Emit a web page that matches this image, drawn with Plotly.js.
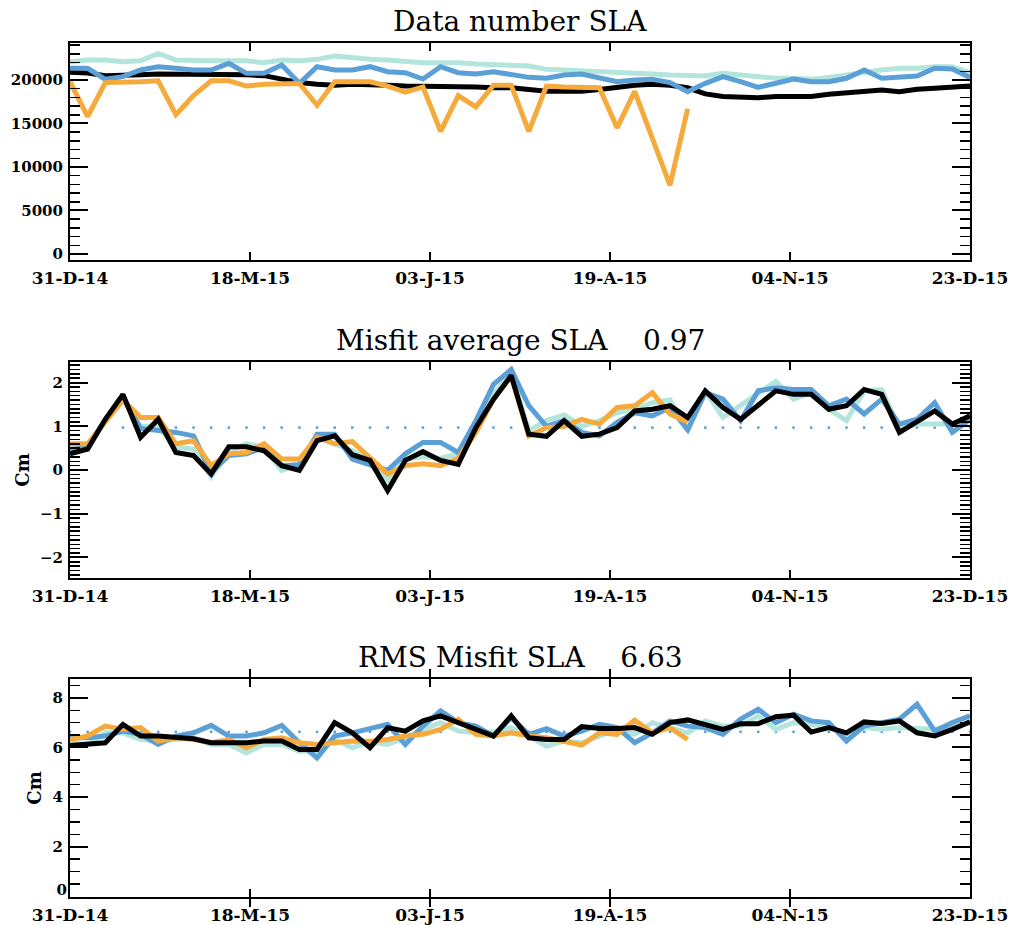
<!DOCTYPE html>
<html>
<head>
<meta charset="utf-8">
<script src="https://cdn.plot.ly/plotly-3.0.1.min.js"></script>
<style>
  html, body { margin: 0; padding: 0; background: #ffffff; }
  #chart { width: 1016px; height: 925px; }
</style>
</head>
<body>
<div id="chart"></div>
<script>
// ---------------- DATA ----------------
const tickLabels = ["31-D-14", "18-M-15", "03-J-15", "19-A-15", "04-N-15", "23-D-15"];
const nWeeks = 52;
const weeks = Array.from({length: nWeeks}, (_, i) => i);

const panelTitles = ["Data number SLA", "Misfit average SLA", "RMS Misfit SLA"];
const misfitAverage = 0.97;
const rmsAverage = 6.63;
const rmsTickValues = [2, 4, 6, 8];

// Panel 1: data number
const dataNumTeal = [22100,22300,22300,22100,22200,23060,22300,22200,22200,22200,
  22200,21990,22300,22200,22370,22750,22490,22370,22300,22100,
  21990,21990,21990,21840,21720,21600,21600,21220,21150,21070,
  20950,20950,20760,20690,20570,20460,20460,20760,20570,20300,
  20190,20190,20080,20300,20570,20950,21150,21340,21340,21530,
  21530,20840];
const dataNumBlue = [21340,21340,20080,20380,21150,21530,21340,21150,21150,21910,
  20760,20760,21720,19620,21530,21150,21150,21530,20950,20840,
  20110,21530,20840,20690,20950,20690,20300,20190,20570,20690,
  20190,19810,20000,20080,19700,18660,19620,20380,19810,19160,
  19620,20110,19810,19810,20190,21150,20190,20300,20460,21340,
  21260,20300];
const dataNumOrange = [19800,15800,19700,19700,19800,19900,16000,18200,19900,19900,
  19300,19500,19600,19600,17100,19800,19800,19800,19300,18600,
  19200,14100,18200,16900,19400,19400,14100,19300,19200,19100,
  19100,14500,18700,13300,7900,16700];
const dataNumBlack = [20900,20800,20500,20500,20600,20700,20700,20600,20600,20700,
  20600,20500,20100,19700,19500,19400,19500,19500,19400,19300,
  19300,19300,19300,19200,19100,19100,18900,18700,18700,18700,
  18900,19200,19400,19500,19400,19100,18400,18100,18000,17970,
  18090,18090,18090,18350,18470,18660,18850,18660,18930,19040,
  19160,19310];

// Panel 2: misfit average (cm)
const misfitTeal = [0.50,0.55,1.10,1.60,1.00,1.00,0.52,0.48,-0.16,0.44,
  0.60,0.52,-0.01,0.14,0.75,0.60,0.44,0.22,-0.24,0.25,
  0.30,0.27,0.37,0.94,1.73,2.22,0.90,1.13,1.26,1.00,
  1.13,1.31,1.39,1.54,1.60,0.90,1.81,1.20,1.47,1.73,
  2.03,1.62,1.77,1.39,1.13,1.81,1.84,0.94,1.05,1.05,
  1.05,1.16];
const misfitBlue = [0.45,0.55,1.15,1.65,0.95,0.90,0.86,0.78,-0.05,0.33,
  0.37,0.52,0.10,0.12,0.82,0.82,0.25,0.12,-0.01,0.37,
  0.63,0.63,0.40,1.13,1.96,2.30,1.47,1.00,1.13,0.86,
  0.78,1.09,1.31,1.24,1.43,0.92,1.77,1.62,1.13,1.81,
  1.88,1.84,1.84,1.47,1.62,1.28,1.62,1.05,1.16,1.54,
  0.86,1.16];
const misfitOrange = [0.60,0.60,1.10,1.60,1.20,1.20,0.60,0.67,0.10,0.37,
  0.40,0.60,0.25,0.25,0.75,0.60,0.65,0.28,-0.09,0.10,
  0.14,0.10,0.27,0.86,1.62,2.14,0.78,0.97,1.00,1.16,
  1.05,1.43,1.47,1.77,1.28,1.09];
const misfitBlack = [0.37,0.48,1.16,1.73,0.75,1.16,0.40,0.33,-0.09,0.53,
  0.53,0.44,0.10,-0.01,0.67,0.78,0.35,0.22,-0.47,0.22,
  0.42,0.22,0.13,0.97,1.62,2.16,0.82,0.77,1.13,0.77,
  0.82,0.97,1.35,1.39,1.47,1.20,1.81,1.43,1.16,1.47,
  1.81,1.73,1.73,1.39,1.47,1.84,1.73,0.86,1.09,1.35,
  1.05,1.24];

// Panel 3: RMS misfit (cm)
const rmsTeal = [6.19,6.12,6.59,6.59,6.32,6.26,6.32,6.39,6.12,6.12,
  5.78,6.12,6.12,5.85,5.85,6.32,5.99,6.22,6.12,6.39,
  6.73,7.00,6.66,6.59,6.62,6.80,6.46,6.05,6.26,6.19,
  6.46,6.73,6.53,7.00,6.80,6.59,7.07,6.86,6.86,7.27,
  6.73,7.00,6.93,6.80,6.53,6.80,6.73,6.80,6.76,6.73,
  6.80,7.00];
const rmsBlue = [6.39,6.39,6.46,6.66,6.53,6.12,6.46,6.59,6.89,6.46,
  6.46,6.59,6.89,6.19,5.58,6.46,6.59,6.75,6.93,6.12,
  6.86,7.47,7.00,6.86,6.46,7.20,6.53,6.76,6.46,6.66,
  6.93,6.80,6.19,6.59,7.07,6.86,6.80,6.53,7.14,7.54,
  7.00,7.34,7.07,7.00,6.26,6.86,7.00,7.14,7.74,6.66,
  7.00,7.27];
const rmsOrange = [6.32,6.46,6.86,6.73,6.80,6.26,6.39,6.32,6.19,6.32,
  5.99,6.32,6.39,6.19,6.12,6.19,6.26,6.25,6.32,6.46,
  6.53,6.73,7.14,6.53,6.46,6.59,6.46,6.39,6.26,6.10,
  6.59,6.53,7.10,6.59,6.80,6.32];
const rmsBlack = [6.08,6.12,6.19,6.93,6.46,6.46,6.39,6.35,6.19,6.19,
  6.19,6.26,6.26,5.92,5.92,7.00,6.59,5.99,6.80,6.66,
  7.07,7.27,7.00,6.73,6.46,7.27,6.39,6.32,6.32,6.84,
  6.76,6.76,6.80,6.53,7.00,7.11,6.93,6.73,6.96,6.96,
  7.24,7.30,6.62,6.80,6.59,7.03,6.97,7.07,6.59,6.46,
  6.73,7.03];

// ---------------- STYLE ----------------
const colTeal = "#b4e5dc";
const colBlue = "#5a9fd5";
const colOrange = "#f5aa3b";
const colBlack = "#000000";
const lw = 5;

function line(x, y, color, xa, ya, width) {
  return {x: x, y: y, type: "scatter", mode: "lines", xaxis: xa, yaxis: ya,
    line: {color: color, width: width || lw, shape: "linear"}, hoverinfo: "skip", showlegend: false};
}
function dots(x, value, xa, ya) {
  return {x: x, y: x.map(() => value), type: "scatter", mode: "markers", xaxis: xa, yaxis: ya,
    marker: {color: colBlue, size: 2.5, symbol: "square"}, hoverinfo: "skip", showlegend: false};
}

const traces = [
  // panel 1
  line(weeks, dataNumBlack, colBlack, "x", "y", 5),
  line(weeks, dataNumTeal, colTeal, "x", "y"),
  line(weeks, dataNumBlue, colBlue, "x", "y"),
  line(weeks.slice(0, dataNumOrange.length), dataNumOrange, colOrange, "x", "y"),
  // panel 2
  dots(weeks.slice(3), misfitAverage, "x2", "y2"),
  line(weeks, misfitTeal, colTeal, "x2", "y2"),
  line(weeks, misfitBlue, colBlue, "x2", "y2"),
  line(weeks.slice(0, misfitOrange.length), misfitOrange, colOrange, "x2", "y2"),
  line(weeks, misfitBlack, colBlack, "x2", "y2", 5),
  // panel 3
  dots(weeks, rmsAverage, "x3", "y3"),
  line(weeks, rmsTeal, colTeal, "x3", "y3"),
  line(weeks, rmsBlue, colBlue, "x3", "y3"),
  line(weeks.slice(0, rmsOrange.length), rmsOrange, colOrange, "x3", "y3"),
  line(weeks, rmsBlack, colBlack, "x3", "y3", 5),
  // empty trace so the overlay axis carrying the raised "0" label is drawn
  {x: [], y: [], type: "scatter", mode: "lines", xaxis: "x3", yaxis: "y4", showlegend: false, hoverinfo: "skip"}
];

const H = 925;
const yTickFont = {family: "DejaVu Serif", size: 15, color: "#000", weight: "bold"};
const xTickFont = {family: "DejaVu Serif", size: 17, color: "#000", weight: "bold"};
const tickPos = tickLabels.map((_, i) => i * (nWeeks - 1) / (tickLabels.length - 1));

function xAxis(anchor) {
  return {
    anchor: anchor, domain: [0, 1], range: [0, nWeeks - 1],
    tickmode: "array", tickvals: tickPos, ticktext: tickLabels,
    ticks: "inside", ticklen: 8, tickwidth: 2, tickcolor: "#000",
    showline: true, linewidth: 2, linecolor: "#000", mirror: "allticks",
    showgrid: false, zeroline: false, tickfont: xTickFont, automargin: false,
    ticklabelstandoff: 2
  };
}
function yAxis(anchor, topPx, botPx, range, dtick, minorDtick, title) {
  const a = {
    anchor: anchor, domain: [1 - botPx / H, 1 - topPx / H], range: range,
    tick0: 0, dtick: dtick, tickformat: "d",
    ticks: "inside", ticklen: 18, tickwidth: 2, tickcolor: "#000",
    minor: {ticks: "inside", ticklen: 10, tickwidth: 1.5, tickcolor: "#000", dtick: minorDtick, tick0: 0, showgrid: false},
    showline: true, linewidth: 2, linecolor: "#000", mirror: "allticks",
    showgrid: false, zeroline: false, tickfont: yTickFont, automargin: false,
    ticklabelstandoff: 2
  };
  if (title) {
    a.title = {text: title, font: {family: "DejaVu Serif", size: 18, color: "#000", weight: "bold"}, standoff: 6};
  }
  return a;
}

const titleFont = {family: "DejaVu Serif", size: 28, color: "#000"};
const gap = "\u00a0\u00a0\u00a0\u00a0";

const y3 = yAxis("x3", 679, 897, [-0.03, 8.76], 2, 0.5, "Cm");
y3.tickmode = "array";
y3.tickvals = [0].concat(rmsTickValues);
y3.ticktext = [""].concat(rmsTickValues.map(String));

const layout = {
  width: 1016, height: 925,
  margin: {l: 70, r: 46, t: 0, b: 0, pad: 0},
  paper_bgcolor: "#ffffff", plot_bgcolor: "#ffffff",
  showlegend: false,
  xaxis: xAxis("y"),
  yaxis: yAxis("x", 43, 260, [-690, 24250], 5000, 1000, null),
  xaxis2: xAxis("y2"),
  yaxis2: yAxis("x2", 362, 578, [-2.47, 2.47], 1, 0.1, "Cm"),
  xaxis3: xAxis("y3"),
  yaxis3: y3,
  yaxis4: {
    overlaying: "y3", anchor: "x3", side: "left", range: [-0.03, 8.76],
    tickmode: "array", tickvals: [0.28], ticktext: ["0"],
    ticks: "", showline: false, showgrid: false, zeroline: false,
    tickfont: yTickFont, automargin: false, ticklabelstandoff: 2
  },
  annotations: [
    {text: panelTitles[0], xref: "paper", yref: "paper", x: 0.5, y: 1 - 22 / H, xanchor: "center", yanchor: "middle", showarrow: false, font: titleFont},
    {text: panelTitles[1] + gap + misfitAverage.toFixed(2), xref: "paper", yref: "paper", x: 0.5, y: 1 - 340 / H, xanchor: "center", yanchor: "middle", showarrow: false, font: titleFont},
    {text: panelTitles[2] + gap + rmsAverage.toFixed(2), xref: "paper", yref: "paper", x: 0.5, y: 1 - 657 / H, xanchor: "center", yanchor: "middle", showarrow: false, font: titleFont}
  ]
};

Plotly.newPlot("chart", traces, layout, {displayModeBar: false, staticPlot: true});
</script>
</body>
</html>
